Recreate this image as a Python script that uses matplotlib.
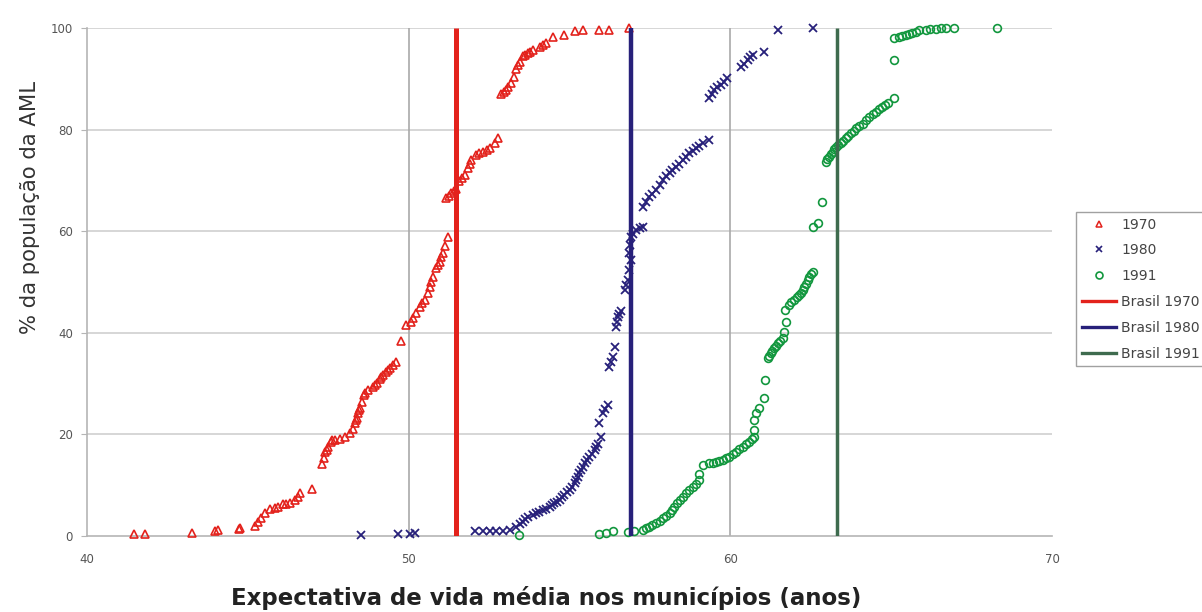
import matplotlib
matplotlib.use("Agg")
import matplotlib.pyplot as plt
from matplotlib.lines import Line2D

# Cumulative share of the AML population (%) against municipal life expectancy (years)
pts_1970 = [
    (41.46, 0.3), (41.80, 0.3), (43.25, 0.6), (43.98, 1.0), (44.07, 1.2), (44.73, 1.3),
    (44.77, 1.5), (45.22, 2.0), (45.32, 2.8), (45.42, 3.6), (45.53, 4.6), (45.68, 5.3),
    (45.84, 5.5), (45.95, 5.8), (46.10, 6.3), (46.20, 6.3), (46.30, 6.4), (46.46, 7.1),
    (46.56, 7.7), (46.61, 8.5), (47.00, 9.2), (47.32, 14.2), (47.36, 15.3), (47.39, 16.6),
    (47.45, 17.0), (47.50, 17.6), (47.57, 18.6), (47.62, 18.8), (47.70, 18.9), (47.86, 19.0),
    (48.01, 19.5), (48.17, 20.2), (48.27, 21.0), (48.32, 22.2), (48.35, 22.8), (48.38, 23.2),
    (48.43, 24.2), (48.45, 24.8), (48.50, 25.1), (48.56, 26.4), (48.60, 27.8), (48.65, 28.2),
    (48.74, 28.7), (48.89, 29.4), (48.95, 29.8), (49.00, 30.1), (49.10, 30.9), (49.15, 31.3),
    (49.20, 31.7), (49.31, 32.3), (49.35, 32.7), (49.41, 33.0), (49.51, 33.7), (49.60, 34.3),
    (49.75, 38.3), (49.93, 41.5), (50.08, 42.2), (50.15, 43.0), (50.24, 43.8), (50.34, 45.1),
    (50.42, 45.8), (50.50, 46.5), (50.60, 47.8), (50.65, 49.1), (50.70, 50.0), (50.76, 51.0),
    (50.86, 52.7), (50.90, 53.3), (50.96, 54.0), (51.02, 55.0), (51.07, 55.7), (51.12, 57.0),
    (51.22, 58.9), (51.17, 66.5), (51.25, 67.0), (51.32, 67.5), (51.42, 68.0), (51.48, 68.4),
    (51.58, 69.8), (51.65, 70.5), (51.74, 71.1), (51.84, 72.4), (51.90, 73.2), (51.95, 74.0),
    (52.10, 75.0), (52.20, 75.3), (52.31, 75.6), (52.42, 76.0), (52.52, 76.3), (52.67, 77.3),
    (52.78, 78.3), (52.88, 87.1), (52.95, 87.5), (53.03, 87.8), (53.10, 88.4), (53.19, 89.1),
    (53.29, 90.4), (53.35, 92.0), (53.40, 92.7), (53.45, 93.4), (53.55, 94.4), (53.62, 94.7),
    (53.70, 95.0), (53.78, 95.3), (53.86, 95.7), (54.07, 96.3), (54.17, 96.6), (54.27, 97.0),
    (54.48, 98.3), (54.84, 98.6), (55.16, 99.5), (55.41, 99.6), (55.93, 99.6), (56.24, 99.6),
    (56.84, 100.0),
]

pts_1980 = [
    (48.53, 0.2), (49.67, 0.3), (50.03, 0.4), (50.19, 0.5), (52.05, 0.9), (52.31, 0.9),
    (52.52, 0.9), (52.72, 0.9), (52.93, 1.0), (53.14, 1.2), (53.35, 1.8), (53.45, 2.3),
    (53.55, 2.8), (53.63, 3.3), (53.70, 3.8), (53.85, 4.2), (53.96, 4.5), (54.05, 4.8),
    (54.17, 5.1), (54.27, 5.4), (54.38, 5.8), (54.45, 6.1), (54.53, 6.4), (54.61, 6.7),
    (54.69, 7.1), (54.76, 7.6), (54.84, 8.1), (54.92, 8.6), (55.00, 9.1), (55.08, 9.7),
    (55.16, 10.4), (55.20, 11.0), (55.26, 11.7), (55.31, 12.4), (55.36, 13.0), (55.42, 13.6),
    (55.47, 14.3), (55.55, 15.0), (55.62, 15.6), (55.70, 16.2), (55.78, 16.9), (55.83, 17.5),
    (55.88, 18.2), (55.98, 19.5), (55.93, 22.2), (56.04, 24.2), (56.10, 25.0), (56.19, 25.8),
    (56.24, 33.3), (56.30, 34.3), (56.35, 35.3), (56.40, 37.3), (56.45, 41.2), (56.47, 42.2),
    (56.50, 43.2), (56.55, 43.7), (56.60, 44.2), (56.71, 48.4), (56.76, 49.4), (56.81, 50.4),
    (56.86, 52.4), (56.91, 54.3), (56.86, 55.7), (56.88, 57.3), (56.91, 58.9), (56.98, 59.5),
    (57.07, 60.2), (57.18, 60.6), (57.28, 60.9), (57.28, 64.8), (57.38, 65.8), (57.48, 66.8),
    (57.58, 67.4), (57.69, 68.1), (57.80, 69.1), (57.90, 70.1), (58.00, 70.8), (58.11, 71.4),
    (58.20, 72.0), (58.31, 72.7), (58.41, 73.3), (58.52, 74.0), (58.62, 74.6), (58.73, 75.3),
    (58.83, 75.8), (58.93, 76.3), (59.04, 76.8), (59.14, 77.3), (59.35, 78.0), (59.35, 86.2),
    (59.42, 87.0), (59.50, 87.8), (59.60, 88.3), (59.71, 88.8), (59.80, 89.4), (59.91, 90.1),
    (60.33, 92.4), (60.43, 93.0), (60.54, 93.7), (60.62, 94.2), (60.69, 94.7), (61.06, 95.3),
    (61.47, 99.6), (62.58, 100.0),
]

pts_1991 = [
    (53.43, 0.2), (55.93, 0.3), (56.14, 0.5), (56.35, 0.9), (56.81, 0.7), (57.02, 0.9),
    (57.28, 1.2), (57.38, 1.5), (57.48, 1.8), (57.58, 2.1), (57.69, 2.5), (57.80, 3.0),
    (57.90, 3.5), (58.00, 4.0), (58.11, 4.5), (58.18, 5.1), (58.26, 5.8), (58.34, 6.4),
    (58.42, 7.1), (58.52, 7.7), (58.62, 8.4), (58.72, 9.0), (58.83, 9.7), (58.93, 10.3),
    (59.04, 11.0), (59.04, 12.3), (59.14, 14.0), (59.35, 14.3), (59.45, 14.4), (59.55, 14.6),
    (59.65, 14.8), (59.76, 15.0), (59.87, 15.3), (59.97, 15.6), (60.07, 16.1), (60.17, 16.6),
    (60.27, 17.1), (60.38, 17.6), (60.48, 18.1), (60.59, 18.6), (60.67, 19.0), (60.75, 19.5),
    (60.75, 20.9), (60.75, 22.8), (60.80, 24.2), (60.90, 25.1), (61.06, 27.1), (61.09, 30.7),
    (61.16, 35.0), (61.20, 35.5), (61.26, 36.0), (61.31, 36.5), (61.37, 37.0), (61.42, 37.4),
    (61.47, 37.9), (61.55, 38.4), (61.63, 38.9), (61.68, 40.2), (61.73, 42.2), (61.71, 44.5),
    (61.83, 45.5), (61.90, 46.0), (61.99, 46.5), (62.06, 47.0), (62.14, 47.4), (62.20, 47.9),
    (62.25, 48.4), (62.30, 49.0), (62.35, 49.7), (62.40, 50.3), (62.45, 51.0), (62.50, 51.5),
    (62.56, 52.0), (62.56, 60.9), (62.71, 61.6), (62.86, 65.8), (62.97, 73.7), (63.02, 74.2),
    (63.07, 74.7), (63.12, 75.1), (63.18, 75.6), (63.23, 76.1), (63.28, 76.6), (63.36, 77.0),
    (63.44, 77.3), (63.51, 77.8), (63.59, 78.3), (63.67, 78.8), (63.75, 79.3), (63.83, 79.8),
    (63.91, 80.3), (64.00, 80.7), (64.11, 81.2), (64.22, 81.8), (64.32, 82.5), (64.42, 83.0),
    (64.53, 83.5), (64.63, 84.0), (64.73, 84.5), (64.81, 84.8), (64.89, 85.2), (65.09, 86.2),
    (65.09, 93.7), (65.09, 98.0), (65.25, 98.3), (65.35, 98.4), (65.45, 98.6), (65.55, 98.8),
    (65.66, 99.0), (65.76, 99.3), (65.87, 99.6), (66.07, 99.7), (66.20, 99.8), (66.38, 99.9),
    (66.55, 100.0), (66.70, 100.0), (66.96, 100.0), (68.30, 100.0),
]

# National life expectancy reference values
brasil_labels = ["Brasil 1970", "Brasil 1980", "Brasil 1991"]
brasil_values = [51.46, 56.90, 63.31]

series_labels = ["1970", "1980", "1991"]
x_ticks = [40, 50, 60, 70]
y_ticks = [0, 20, 40, 60, 80, 100]

RED = "#e3221c"
BLUE = "#27207a"
GREEN = "#12973e"
LINE_COLORS = ["#e3221c", "#27207a", "#3e6b4e"]
LINE_WIDTHS = [3.6, 3.2, 2.5]

plt.rcParams["font.family"] = ["DejaVu Sans"]

fig = plt.figure(figsize=(12.02, 6.12), dpi=100)
ax = fig.add_axes([87 / 1202, 1 - 536 / 612, (1052 - 87) / 1202, (536 - 28) / 612])

ax.set_xlim(40, 70)
ax.set_ylim(0, 100)
ax.set_xticks(x_ticks)
ax.set_yticks(y_ticks)

# grid: vertical lines darker than horizontal ones
for yv in y_ticks[1:]:
    ax.axhline(yv, color="#cfcfcf", lw=1.2, zorder=0)
for xv in x_ticks[1:-1]:
    ax.axvline(xv, color="#a9a9a9", lw=1.2, zorder=0)

for side in ["top", "right"]:
    ax.spines[side].set_visible(False)
for side in ["left", "bottom"]:
    ax.spines[side].set_color("#b5b5b5")
    ax.spines[side].set_linewidth(1.2)

ax.tick_params(axis="y", length=4, color="#b5b5b5", labelsize=8.5,
               labelcolor="#555555", pad=6)
ax.tick_params(axis="x", length=0, labelsize=8.5, labelcolor="#555555", pad=12)

x70, y70 = zip(*pts_1970)
x80, y80 = zip(*pts_1980)
x91, y91 = zip(*pts_1991)

ax.plot(x70, y70, ls="none", marker="^", ms=5.8, mfc="none",
        mec=RED, mew=1.2, zorder=3, clip_on=False)
ax.plot(x80, y80, ls="none", marker="x", ms=5.2, color=BLUE,
        mew=1.3, zorder=3, clip_on=False)
ax.plot(x91, y91, ls="none", marker="o", ms=5.6, mfc="none",
        mec=GREEN, mew=1.2, zorder=3, clip_on=False)

line_handles = []
for val, lab, col, lw in zip(brasil_values, brasil_labels, LINE_COLORS, LINE_WIDTHS):
    ax.plot([val, val], [0, 100], color=col, lw=lw, solid_capstyle="butt", zorder=4)
    line_handles.append(Line2D([], [], color=col, lw=2.4, label=lab))

leg_handles = [
    Line2D([], [], ls="none", marker="^", ms=5, mfc="none", mec=RED, mew=1.1, label=series_labels[0]),
    Line2D([], [], ls="none", marker="x", ms=4.5, color=BLUE, mew=1.2, label=series_labels[1]),
    Line2D([], [], ls="none", marker="o", ms=5, mfc="none", mec=GREEN, mew=1.2, label=series_labels[2]),
] + line_handles

leg = fig.legend(handles=leg_handles, loc="upper left",
                 bbox_to_anchor=(1076 / 1202, 1 - 212 / 612),
                 fontsize=10, frameon=True, fancybox=False, shadow=False,
                 handlelength=2.5, handletextpad=0.36, labelspacing=0.85,
                 borderpad=0.4, borderaxespad=0)
leg.get_frame().set_edgecolor("#8a8a8a")
leg.get_frame().set_linewidth(1.0)
for t in leg.get_texts():
    t.set_color("#444444")

fig.text(30 / 1202, 1 - 208 / 612, "% da população da AML", rotation=90,
         ha="center", va="center", fontsize=15.2, color="#333333")
fig.text(546 / 1202, 1 - 598 / 612, "Expectativa de vida média nos municípios (anos)",
         ha="center", va="center", fontsize=16.5, fontweight="bold", color="#222222")

fig.savefig("out.png", dpi=100)
